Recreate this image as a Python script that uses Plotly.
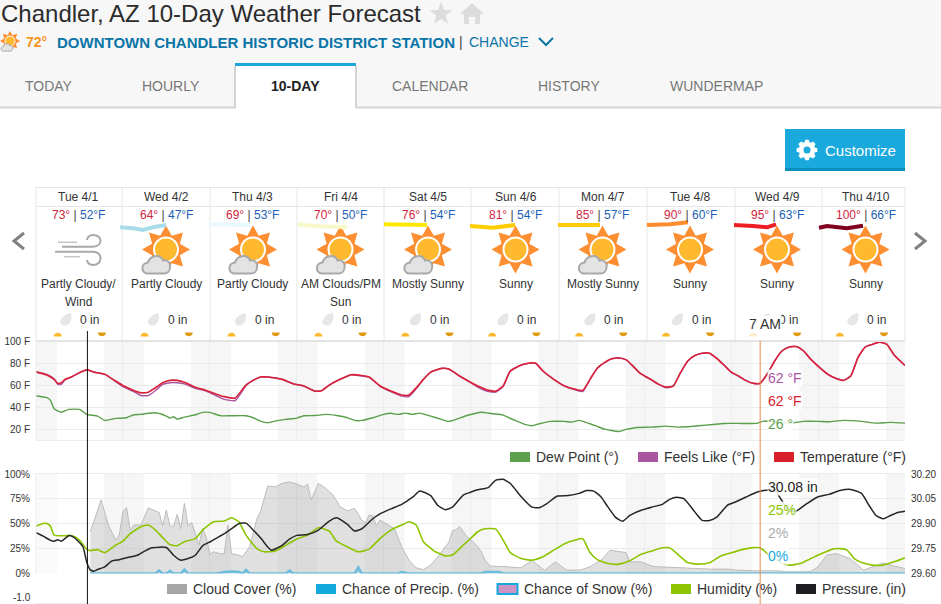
import math
import plotly.graph_objects as go

W, H = 941, 604
FONT = "Liberation Sans"

days = ["Tue 4/1", "Wed 4/2", "Thu 4/3", "Fri 4/4", "Sat 4/5", "Sun 4/6", "Mon 4/7", "Tue 4/8", "Wed 4/9", "Thu 4/10"]
highs = [73, 64, 69, 70, 76, 81, 85, 90, 95, 100]
lows = [52, 47, 53, 50, 54, 54, 57, 60, 63, 66]
conditions = [
    ["Partly Cloudy/", "Wind"], ["Partly Cloudy"], ["Partly Cloudy"], ["AM Clouds/PM", "Sun"], ["Mostly Sunny"],
    ["Sunny"], ["Mostly Sunny"], ["Sunny"], ["Sunny"], ["Sunny"],
]
tabs = ["TODAY", "HOURLY", "10-DAY", "CALENDAR", "HISTORY", "WUNDERMAP"]

sunrise_hours = [6, 30, 54, 78, 102, 126, 150, 174, 198, 222]
sunset_hours = [18.8, 42.8, 66.8, 90.8, 114.8, 138.8, 162.8, 186.8, 210.8, 234.8]
now_hour = 14.2
cursor_hour = 200

temp_hours = [
    0, 3, 5, 6, 7, 8, 10, 12, 14, 16,
    19, 22, 24, 27, 29, 31, 33, 35, 37, 39,
    41, 44, 47, 50, 52, 55, 57, 58, 60, 62,
    64, 68, 71, 74, 77, 79, 81, 83, 85, 87,
    90, 92, 95, 98, 101, 103, 105, 107, 109, 112,
    114, 117, 120, 122, 125, 127, 129, 131, 134, 136,
    138, 140, 143, 146, 149, 151, 153, 155, 157, 159,
    161, 163, 165, 167, 170, 172, 174, 176, 178, 180,
    182, 184, 186, 188, 190, 192, 194, 196, 198, 200,
    202, 204, 206, 208, 210, 212, 214, 217, 219, 221,
    223, 225, 227, 229, 231, 233, 235, 237, 240,
]
temperature = [
    72, 69.4, 65.5, 62, 62.5, 65.5, 68, 71.5, 74, 72,
    70, 64, 60, 55.6, 53.5, 54, 58, 62.5, 64.6, 64.6,
    63, 58.5, 55.6, 52, 50, 48.7, 56.5, 60.4, 64.6, 67.6,
    67.6, 65.5, 61.6, 59.5, 55, 55.6, 60.4, 64, 67, 69.7,
    69, 67.6, 59.5, 55, 51.4, 51.4, 58, 65.5, 72, 75.4,
    74.8, 68.5, 63, 59.5, 55.6, 55, 59.5, 73, 78.4, 80,
    80, 73, 65.5, 59.5, 56.5, 55.6, 65.5, 75.5, 80.5, 84,
    84.7, 83, 77, 70.6, 65, 61, 58.6, 59.5, 71.5, 82,
    87, 89, 89, 84.4, 78.4, 72, 68.5, 64.6, 62, 62,
    70.6, 82, 91, 94.6, 95, 91, 83.5, 74.5, 69.4, 66.4,
    64.6, 68.5, 85, 94.6, 97, 99, 97, 87.4, 78,
]
feels_like = [
    72.5, 70, 66, 61, 61, 65, 68, 71.5, 74, 72,
    70, 63.5, 59, 54.5, 51, 51, 55.5, 61, 62.5, 62.5,
    61.5, 57.5, 55, 50.5, 47.5, 46.5, 55, 60, 64.6, 67.6,
    67.6, 65.5, 61.6, 59.5, 55, 55.6, 60.4, 64, 67, 69.7,
    68.5, 67.6, 59.5, 54.5, 50.5, 50, 57, 65.5, 72, 75.4,
    74.8, 68.5, 62.5, 58.5, 54.5, 54, 59, 73, 78.4, 80,
    80, 73, 65.5, 59.5, 56, 54.5, 65.5, 75.5, 80.5, 84,
    84.7, 83, 77, 70.6, 65, 61, 58, 59.5, 71.5, 82,
    87, 89, 89, 84.4, 78.4, 72, 68.5, 64.6, 62, 62,
    70.6, 82, 91, 94.6, 95, 91, 83.5, 74.5, 69.4, 66.4,
    64.6, 68.5, 85, 94.6, 97, 99, 97, 87.4, 78,
]

dew_hours = [
    0, 3, 4, 5, 7, 9, 12, 14, 17, 19, 22, 25, 27, 29, 31, 33, 36, 37, 38, 39,
    41, 44, 46, 48, 51, 54, 58, 60, 62, 64, 66, 69, 72, 74, 77, 80, 83, 86, 88, 90,
    93, 96, 98, 100, 102, 104, 106, 109, 112, 114, 116, 119, 123, 126, 129, 132, 135, 137, 139, 142,
    146, 148, 150, 153, 155, 157, 161, 163, 166, 170, 174, 177, 180, 183, 187, 190, 195, 199, 201, 208,
    212, 216, 219, 223, 228, 232, 236, 240,
]
dew_point = [
    50.8, 49, 46.6, 39, 36, 38.5, 38.5, 34, 32.5, 28.6, 30.4, 31, 33.7, 34, 35, 35.5, 32.5, 30.7, 31.9, 29.8,
    31.6, 33.7, 35.8, 35.8, 32.8, 32.8, 32.8, 31, 28, 26.5, 28, 29.5, 30.7, 32.8, 33, 34, 33, 31, 28.6, 28.6,
    31, 34, 35, 34, 35.2, 34, 35.2, 32.5, 29.5, 27.7, 29.5, 33, 36, 34.6, 33.4, 29, 25, 23.8, 25.6, 27.7,
    27.7, 27.1, 28.6, 25.6, 23.2, 20.8, 18.7, 20.5, 22.3, 22.6, 23.5, 22.6, 22.9, 23.8, 25, 25.9, 25.9, 25.9, 28, 26.2,
    27.7, 27.7, 27.4, 28.6, 27.7, 26.2, 26.8, 26.2,
]

humidity_hours = [
    0, 2, 3, 4, 5, 8, 10, 12, 14, 15, 17, 19, 22, 24, 26, 29, 31, 33, 35, 37,
    39, 41, 44, 46, 49, 52, 54, 56, 58, 61, 63, 66, 69, 72, 75, 78, 81, 83, 86, 89,
    92, 95, 98, 101, 103, 105, 107, 110, 113, 115, 118, 120, 122, 124, 127, 129, 131, 134, 137, 140,
    143, 146, 149, 151, 153, 155, 158, 161, 164, 167, 170, 173, 175, 178, 180, 183, 186, 189, 192, 195,
    198, 200, 202, 205, 208, 211, 214, 217, 220, 222, 224, 226, 228, 231, 234, 237, 240,
]
humidity = [
    47.6, 50.3, 50.3, 47.6, 38.6, 38, 38, 33.6, 24.5, 23, 24, 21, 28.5, 32.5, 40, 47, 48.7, 43.6, 36, 29,
    27.9, 32, 35, 43.6, 52, 52.7, 56, 52, 38.6, 25, 21.8, 22.5, 28.5, 34.6, 38.6, 46, 42.6, 32.5, 26.8, 21.8,
    24.5, 35, 43.6, 48.7, 52, 48.7, 32, 22.5, 17.8, 18.5, 28.5, 35, 42, 45, 44.6, 33.6, 21, 15, 13.4, 16.8,
    23.5, 30, 33.6, 35, 21, 14, 10, 9.4, 12.8, 19, 22.5, 25.8, 25.8, 16.8, 11, 9.4, 10.7, 17.4, 20.8, 24,
    26, 25.8, 20, 11.7, 8.4, 10, 15, 20, 24.5, 25, 23.5, 15, 11, 8.4, 8.4, 11.7, 15.8,
]

pressure_hours = [
    0, 2, 4, 5, 6, 7, 9, 10, 12, 13, 14, 15, 16, 17, 19, 21, 23, 25, 28, 30,
    32, 36, 38, 40, 42, 44, 46, 48, 50, 52, 54, 56, 58, 60, 62, 64, 65, 68, 70, 72,
    75, 78, 81, 83, 86, 88, 90, 93, 95, 98, 101, 104, 106, 109, 111, 113, 115, 118, 120, 122,
    124, 125, 127, 129, 131, 134, 137, 139, 141, 144, 147, 150, 152, 154, 156, 158, 160, 162, 164, 167,
    170, 173, 175, 177, 179, 182, 184, 186, 188, 191, 193, 196, 199, 201, 204, 206, 208, 210, 213, 216,
    219, 222, 225, 228, 230, 232, 234, 236, 238, 240,
]
pressure = [
    29.846, 29.825, 29.80, 29.795, 29.803, 29.795, 29.828, 29.824, 29.787, 29.76, 29.67, 29.622, 29.614, 29.624, 29.64, 29.676, 29.683, 29.695, 29.71, 29.735,
    29.755, 29.757, 29.71, 29.68, 29.69, 29.71, 29.767, 29.79, 29.815, 29.84, 29.87, 29.90, 29.904, 29.862, 29.815, 29.76, 29.74, 29.77, 29.807, 29.83,
    29.835, 29.862, 29.916, 29.936, 29.896, 29.856, 29.87, 29.93, 29.96, 29.99, 30.017, 30.06, 30.097, 30.07, 30.01, 29.985, 30.0, 30.073, 30.09, 30.105,
    30.113, 30.12, 30.163, 30.168, 30.143, 30.063, 30.0, 29.997, 30.02, 30.067, 30.07, 30.083, 30.10, 30.097, 30.063, 30.0, 29.94, 29.915, 29.95, 29.98,
    30.0, 30.017, 30.047, 30.06, 30.05, 29.97, 29.92, 29.92, 29.94, 30.013, 30.03, 30.06, 30.09, 30.10, 30.103, 30.04, 29.978, 29.977, 30.023, 30.063,
    30.077, 30.10, 30.107, 30.083, 30.013, 29.95, 29.93, 29.95, 29.968, 29.976,
]

cloud_hours = [
    15, 17, 18, 20, 22, 23, 24, 25, 26, 27, 29, 31, 33, 34, 35, 36, 37, 38, 39, 40,
    41, 42, 43, 45, 46, 47, 48, 49, 51, 52, 53, 54, 56, 57, 59, 61, 62, 64, 66, 68,
    70, 72, 74, 75, 76, 78, 80, 82, 84, 86, 88, 90, 91, 92, 93, 94, 95, 97, 99, 101,
    103, 105, 107, 109, 111, 113, 114, 115, 116, 117, 119, 121, 122, 123, 124, 125.4, 129, 134, 137, 140.4,
    143.4, 146.6, 150.3, 153, 156, 158.6, 163, 164, 167, 170.6, 175, 181, 186.2, 191, 193.6, 198.2, 204.6, 207.4, 213.8, 216,
    218.4, 221, 224.8, 228.6, 231.3, 234, 236.8, 240,
]
cloud_cover = [
    42, 64, 74, 48.7, 33.6, 38.6, 62, 66.4, 43.6, 48.7, 48.7, 66, 62.8, 61.4, 48, 63.8, 47.6, 47.6, 59.4, 45,
    70.5, 48, 51.3, 28.5, 45, 36.9, 19, 21.8, 19.8, 19.8, 48.7, 20, 18.5, 16.8, 26.8, 55, 62, 88, 87, 90.6,
    92, 90, 87, 90, 74, 90.6, 85.6, 79, 67, 63, 65.4, 53.7, 51, 58.7, 58, 48, 53.7, 49.3, 45, 26.8,
    13.4, 5.7, 4, 8.4, 16.8, 26.8, 31, 43, 44, 47, 37, 31, 27, 21.8, 13.4, 7.4, 7, 5.7, 13.4, 3,
    11.7, 3.4, 3.4, 6.7, 13.4, 23.5, 21, 11.7, 11.7, 7, 6.4, 5, 4.4, 4.4, 3.4, 2.7, 2.7, 1.7, 1.7, 6.7,
    18.5, 20, 15, 3.4, 6.7, 10.7, 7.7, 5,
]

precip_hours = [15, 33, 34, 35, 36, 37, 38, 40, 41, 42, 50, 52, 54, 56, 57, 58, 59, 69, 70, 71, 88, 89, 90, 100, 101, 103, 123, 124, 128, 129, 240]
precip = [0, 0, 3, 0, 0, 2.5, 0, 0, 4, 0, 0, 1.5, 2, 1.5, 0, 3.5, 0, 0, 3, 0, 0, 6, 0, 0, 1.5, 0, 0, 1.5, 1.5, 0, 0]

PLOT_L, PLOT_R = 36, 905
DAY_W = (PLOT_R - PLOT_L) / 10
day_edges = [36, 122, 210, 297, 384, 471, 559, 647, 735, 822, 905]
day_centers = [78.5, 166, 253, 340.5, 428, 515.5, 602.5, 690, 777, 865.5]
cloudy_sun = [1, 2, 3, 4, 6]


def px(x):
    return x / W


def py(y):
    return 1 - y / H


shapes = []
annotations = []


def rect(x0, y0, x1, y1, fill, line=None, width=1):
    shapes.append(dict(type="rect", xref="paper", yref="paper", x0=px(x0), x1=px(x1), y0=py(y1), y1=py(y0),
                       fillcolor=fill, line=dict(color=line or fill, width=width if line else 0)))


def hline(y, x0, x1, color, width=1):
    shapes.append(dict(type="line", xref="paper", yref="paper", x0=px(x0), x1=px(x1), y0=py(y), y1=py(y),
                       line=dict(color=color, width=width)))


def vline(x, y0, y1, color, width=1):
    shapes.append(dict(type="line", xref="paper", yref="paper", x0=px(x), x1=px(x), y0=py(y0), y1=py(y1),
                       line=dict(color=color, width=width)))


def disc(cx, cy, r, fill, line=None, width=0):
    shapes.append(dict(type="circle", xref="paper", yref="paper", x0=px(cx - r), x1=px(cx + r),
                       y0=py(cy + r), y1=py(cy - r), fillcolor=fill,
                       line=dict(color=line or fill, width=width)))


def path(pts, fill=None, line=None, width=1, closed=True):
    d = "M" + " L".join(f"{px(x):.5f},{py(y):.5f}" for x, y in pts)
    if closed:
        d += " Z"
    shapes.append(dict(type="path", xref="paper", yref="paper", path=d,
                       fillcolor=fill or "rgba(0,0,0,0)", line=dict(color=line or "rgba(0,0,0,0)", width=width)))


def curve(ox, oy, cmd, fill=None, line=None, width=1):
    # cmd: list of ("M"/"L"/"C"/"Z", points) in pixels around (ox, oy)
    d = ""
    for c, pts in cmd:
        d += c + " ".join(f"{px(ox + x):.5f},{py(oy + y):.5f}" for x, y in pts) + " "
    shapes.append(dict(type="path", xref="paper", yref="paper", path=d.strip(),
                       fillcolor=fill or "rgba(0,0,0,0)", line=dict(color=line or "rgba(0,0,0,0)", width=width)))


def text(x, y, s, size=12, color="#333333", anchor="center", bg=None, bold=False):
    if bold:
        s = f"<b>{s}</b>"
    annotations.append(dict(xref="paper", yref="paper", x=px(x), y=py(y), text=s, showarrow=False,
                            xanchor=anchor, yanchor="middle", align=anchor,
                            font=dict(family=FONT, size=size, color=color),
                            bgcolor=bg or "rgba(0,0,0,0)", borderpad=0))


def star_pts(cx, cy, r_out, r_in, n, start=-math.pi / 2):
    pts = []
    for i in range(2 * n):
        r = r_out if i % 2 == 0 else r_in
        a = start + i * math.pi / n
        pts.append((cx + r * math.cos(a), cy + r * math.sin(a)))
    return pts


def sun(cx, cy, scale=1.0):
    path(star_pts(cx, cy, 24 * scale, 15 * scale, 8), fill="#fd8f32")
    disc(cx, cy, 13 * scale, "#ffffff")
    disc(cx, cy, 11 * scale, "#feb92e")


def cloud(cx, cy, scale=1.0, width=2):
    s = scale
    curve(cx, cy, [
        ("M", [(-18 * s, 24 * s)]),
        ("C", [(-25 * s, 24 * s), (-26 * s, 14 * s), (-18 * s, 13 * s)]),
        ("C", [(-16 * s, 6 * s), (-6 * s, 4 * s), (-3 * s, 11 * s)]),
        ("C", [(2 * s, 10 * s), (5 * s, 14 * s), (4 * s, 18 * s)]),
        ("C", [(4 * s, 22 * s), (1 * s, 24 * s), (-2 * s, 24 * s)]),
        ("Z", []),
    ], fill="#e3e3e3", line="#a9a9a9", width=width)


# page chrome
rect(0, 0, W, 107, "#f7f7f7")
hline(107.5, 0, W, "#d4d4d4", 2)
rect(235, 64, 356, 109, "#ffffff")
vline(235, 66, 108, "#d4d4d4", 2)
vline(356, 66, 108, "#d4d4d4", 2)
rect(235, 63, 356, 66, "#1aa5d8")

text(0, 13, "Chandler, AZ 10-Day Weather Forecast", 24, "#2b2b2b", "left")
path(star_pts(441, 14, 12, 5, 5), fill="#dcdcdc")
path([(472, 3), (484, 14), (480, 14), (480, 24), (475, 24), (475, 17), (469, 17), (469, 24), (464, 24), (464, 14), (460, 14)],
     fill="#dcdcdc")
sun(10, 41, 0.42)
cloud(11, 41, 0.42, 1)
text(25, 42, "72°", 14, "#f7941d", "left", bold=True)
text(55.5, 42, "DOWNTOWN CHANDLER HISTORIC DISTRICT STATION", 15, "#0a75a6", "left", bold=True)
text(458, 42, "|", 14, "#444444", "left")
text(468, 42, "CHANGE", 14, "#0a75a6", "left")
path([(539, 38), (546, 45), (553, 38)], line="#0a75a6", width=2, closed=False)

tab_x = [49, 171, 295, 430, 569, 716]
for name, x in zip(tabs, tab_x):
    if name == "10-DAY":
        text(x, 86, name, 14, "#222222", bold=True)
    else:
        text(x, 86, name, 14, "#777777")

# customize button
rect(785, 129, 905, 171, "#0a8fbe")
rect(785, 129, 905, 168, "#1aa9dc")
gear = []
for i in range(8):
    a = i * math.pi / 4
    for da, r in ((-0.30, 8.2), (-0.17, 10.5), (0.17, 10.5), (0.30, 8.2)):
        gear.append((807 + r * math.cos(a + da), 150 + r * math.sin(a + da)))
path(gear, fill="#ffffff")
disc(807, 150, 3.5, "#1aa9dc")
text(824, 150, "Customize", 15, "#ffffff", "left")

# day table
hline(187.5, 36, 905, "#e6e6e6")
hline(206.5, 36, 905, "#e6e6e6")
for x in day_edges:
    vline(x, 187, 340, "#e6e6e6")
path([(24, 233), (14, 241), (24, 249)], line="#808080", width=3, closed=False)
path([(915, 233), (925, 241), (915, 249)], line="#808080", width=3, closed=False)

for i, cx in enumerate(day_centers):
    text(cx, 197, days[i], 12, "#333333")
    temps = (f'<span style="color:#d0263c">{highs[i]}°</span> | '
             f'<span style="color:#1c5fb3">{lows[i]}°F</span>')
    text(cx, 215, temps, 12, "#444444")
    if i == 0:
        for seg in ([(58, 242.3), (77, 242.3)], [(64, 256.7), (80, 256.7)]):
            path(seg, line="#c4c4c4", width=1.5, closed=False)
        curve(0, 0, [("M", [(62, 246.7)]), ("L", [(93, 246.7)]),
                     ("C", [(103, 246.7), (103, 235), (93, 235)]),
                     ("C", [(89, 235), (87, 238), (87, 240)])], line="#a9a9a9", width=2)
        curve(0, 0, [("M", [(55, 251.7)]), ("L", [(93, 251.7)]),
                     ("C", [(103, 251.7), (103, 265), (93, 265)]),
                     ("C", [(89, 265), (87, 262), (87, 260)])], line="#a9a9a9", width=2)
    else:
        sun(cx, 249.5)
        if i in cloudy_sun:
            cloud(cx, 249.5)
    for j, line in enumerate(conditions[i]):
        text(cx, 284 + 17.5 * j, line, 12, "#333333")
    curve(cx - 12.8, 319.5, [("M", [(5.5, -6.5)]), ("C", [(6.5, 2), (3.5, 6), (-1, 6)]),
                             ("C", [(-5.5, 6), (-6.5, 2), (-4, -1)]),
                             ("C", [(-2, -4), (1, -6), (5.5, -6.5)]), ("Z", [])], fill="#e6e6e6")
    text(cx + 11, 320, "0 in", 12, "#333333")
    rise = PLOT_L + (sunrise_hours[i]) * DAY_W / 24
    sset = PLOT_L + (sunset_hours[i] - 0.6) * DAY_W / 24
    rise_col = "#fdeccb" if i == 8 else "#fdb92e"
    curve(rise, 336.5, [("M", [(-4, 0)]), ("C", [(-4, -5), (4, -5), (4, 0)]), ("Z", [])], fill=rise_col)
    curve(sset, 332.5, [("M", [(-4, 0)]), ("C", [(-4, 5), (4, 5), (4, 0)]), ("Z", [])], fill="#e09a12")

# marker scribbles over the day cells
scribbles = [
    ("#a8dcea", [(120, 227.3), (133, 228.3), (143, 230), (153, 227.3), (166, 225)]),
    ("#e8f8fc", [(210, 224.3), (250, 225)]),
    ("#f7f9c8", [(298, 224.3), (313, 226), (347, 227.3)]),
    ("#ffe800", [(384, 224.3), (427, 225)]),
    ("#ffcc00", [(470, 226), (493, 227.7), (515, 225)]),
    ("#ffcc00", [(558, 225), (600, 225)]),
    ("#ff8c2e", [(647, 225), (670, 224.3), (688, 222.3)]),
    ("#ee1c25", [(734, 225), (753, 226), (767, 227.3), (776, 224.3)]),
    ("#800020", [(819, 227.7), (827, 226), (847, 228.3), (863, 225.7)]),
]
for col, pts in scribbles:
    path(pts, line=col, width=4, closed=False)

# night bands behind both charts, through the library's own x axis
nights = [(-2, sunrise_hours[0] - 0.2)] + [
    (sunset_hours[i], (sunrise_hours[i + 1] - 0.2) if i < 9 else 240) for i in range(10)
]
for k, (a, b) in enumerate(nights):
    for yd in ("y domain", "y2 domain"):
        band = "#fafafa" if k == 0 and yd == "y2 domain" else "#f6f6f6"
        shapes.append(dict(type="rect", xref="x", yref=yd, x0=max(a, 0), x1=b, y0=0, y1=1, layer="below",
                           fillcolor=band, line=dict(width=0)))

# frame
hline(341, 36, 905, "#e4e4e4", 2)
hline(440.5, 36, 905, "#ececec", 1)
hline(473.5, 36, 905, "#ececec", 1)
vline(36, 341, 440, "#ececec")
vline(36, 474, 574, "#ececec")
hline(603.5, 36, 905, "#eeeeee", 1)

# cursor lines
for hour, col, y_top in ((now_hour, "#111111", 331), (cursor_hour, "#e98a4f", 341)):
    shapes.append(dict(type="line", xref="x", yref="paper", x0=hour, x1=hour, y0=0, y1=py(y_top),
                       line=dict(color=col, width=1)))

# legends
top_legend = [(510, "#5a9f4a", "Dew Point (°)"), (638, "#aa55a0", "Feels Like (°F)"), (774, "#d9212c", "Temperature (°F)")]
for x, col, label in top_legend:
    rect(x, 452, x + 20, 462, col)
    text(x + 25, 457, label, 14, "#333333", "left")
bottom_legend = [
    (167, "#a6a6a6", None, "Cloud Cover (%)"),
    (316, "#14a9dc", None, "Chance of Precip. (%)"),
    (497.5, "#cc93c4", "#14a9dc", "Chance of Snow (%)"),
    (671, "#8cc500", None, "Humidity (%)"),
    (796, "#1d1d22", None, "Pressure. (in)"),
]
for x, col, edge, label in bottom_legend:
    rect(x, 584, x + 20, 594, col, edge, 2)
    text(x + 25, 589, label, 14, "#333333", "left")

# hover read-outs
hover_bg = "rgba(255,255,255,0.85)"
readouts = [
    (378, "62 °F", "#aa55a0"), (401, "62 °F", "#d9212c"), (424, "26 °", "#5a9f4a"),
    (487, "30.08 in", "#222222"), (510, "25%", "#8cc500"), (533, "2%", "#aaaaaa"), (556, "0%", "#14a9dc"),
]
for y, label, col in readouts:
    text(767, y, label, 14, col, "left", bg=hover_bg)
text(764.5, 324, "7 AM", 14, "#333333", bg="#ffffff")
text(22, 597.5, "-1.0", 10, "#333333")

fig = go.Figure()
line_shape = dict(shape="spline", smoothing=0.5)

fig.add_trace(go.Scatter(x=dew_hours, y=dew_point, mode="lines", name="Dew Point (°)",
                         line=dict(color="#5a9f4a", width=1.4, **line_shape)))
fig.add_trace(go.Scatter(x=temp_hours, y=feels_like, mode="lines", name="Feels Like (°F)",
                         line=dict(color="#aa55a0", width=1.4, **line_shape)))
fig.add_trace(go.Scatter(x=temp_hours, y=temperature, mode="lines", name="Temperature (°F)",
                         line=dict(color="#d9213a", width=1.6, **line_shape)))

fig.add_trace(go.Scatter(x=cloud_hours, y=cloud_cover, mode="lines", name="Cloud Cover (%)", xaxis="x2", yaxis="y2",
                         fill="tozeroy", fillcolor="rgba(160,160,160,0.32)", line=dict(color="#bcbcbc", width=1)))
fig.add_trace(go.Scatter(x=precip_hours, y=precip, mode="lines", name="Chance of Precip. (%)", xaxis="x2", yaxis="y2",
                         fill="tozeroy", fillcolor="rgba(90,185,225,0.35)", cliponaxis=False,
                         line=dict(color="#6cbcdc", width=2.5)))
fig.add_trace(go.Scatter(x=humidity_hours, y=humidity, mode="lines", name="Humidity (%)", xaxis="x2", yaxis="y2",
                         line=dict(color="#8cc500", width=1.6, **line_shape)))
fig.add_trace(go.Scatter(x=pressure_hours, y=pressure, mode="lines", name="Pressure. (in)", xaxis="x2", yaxis="y3",
                         line=dict(color="#262626", width=1.5, **line_shape)))

day_ticks = [24, 48, 72, 96, 120, 144, 168, 192, 216]
tick_font = dict(family=FONT, size=10, color="#333333")
x_common = dict(range=[0, 240], tickvals=day_ticks, showticklabels=False, ticks="", gridcolor="#ececec",
                zeroline=False, showline=False, automargin=False, domain=[px(PLOT_L), px(PLOT_R)])
y_common = dict(gridcolor="#ebebeb", zeroline=False, showline=False, tickfont=tick_font, automargin=False,
                ticks="outside", ticklen=3, tickcolor="rgba(0,0,0,0)")

fig.update_layout(
    width=W, height=H, autosize=False, margin=dict(l=0, r=0, t=0, b=0, autoexpand=False),
    paper_bgcolor="#ffffff", plot_bgcolor="rgba(0,0,0,0)", showlegend=False, hovermode=False,
    font=dict(family=FONT),
    xaxis=dict(anchor="y", **x_common),
    xaxis2=dict(anchor="y2", **x_common),
    yaxis=dict(domain=[py(440), py(341)], range=[11, 100], tickvals=[20, 40, 60, 80, 100],
               ticktext=["20 F", "40 F", "60 F", "80 F", "100 F"], **y_common),
    yaxis2=dict(domain=[py(573.5), py(474)], range=[0, 100], tickvals=[0, 25, 50, 75, 100],
                ticktext=["0%", "25%", "50%", "75%", "100%"], anchor="x2", **y_common),
    yaxis3=dict(domain=[py(573.5), py(474)], range=[29.6, 30.2], tickvals=[29.6, 29.75, 29.9, 30.05, 30.2],
                ticktext=["29.60", "29.75", "29.90", "30.05", "30.20"], overlaying="y2", side="right",
                anchor="x2", showgrid=False, zeroline=False, showline=False, tickfont=tick_font, automargin=False,
                ticks="outside", ticklen=3, tickcolor="rgba(0,0,0,0)"),
    shapes=shapes,
    annotations=annotations,
)

fig.write_html("out.html", config=dict(displayModeBar=False),
               post_script="document.body.style.margin='0';document.body.style.overflow='hidden';")
